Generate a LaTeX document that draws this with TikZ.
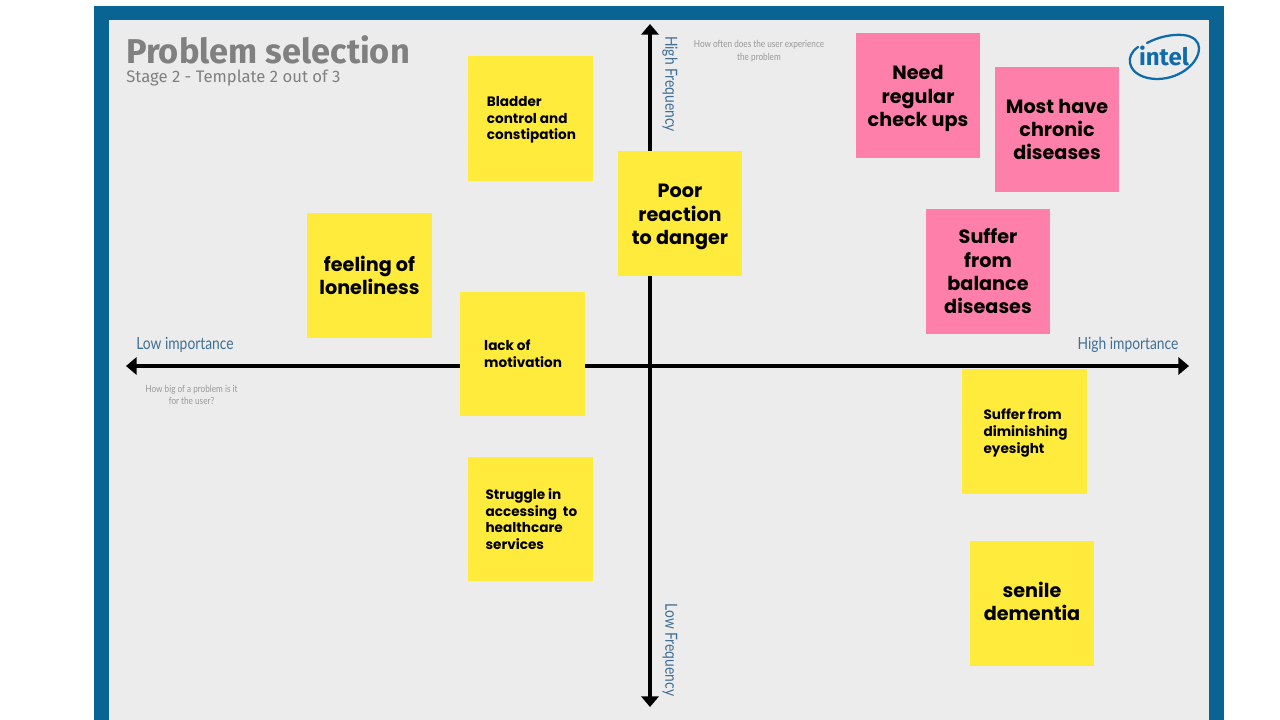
\documentclass[tikz,border=0pt]{standalone}
\usepackage{fontspec}
\setmainfont{Poppins}
\newfontfamily\titlefont{Fira Sans}
\newfontfamily\thinfont[FakeStretch=0.83]{Lato}
\usetikzlibrary{arrows.meta}
\definecolor{frame}{HTML}{0A6493}
\definecolor{paper}{HTML}{ECECEC}
\definecolor{sticky}{HTML}{FFEB3B}
\definecolor{rose}{HTML}{FF7FAB}
\definecolor{inkblue}{HTML}{3F6F96}
\definecolor{intelblue}{HTML}{0F6BAA}
\newcommand\dn[2]{\raisebox{0pt}[\dimexpr\height+#1*2\relax][\depth]{#2}}
\newcommand\tb[1]{\begin{tabular}{@{}c@{}}#1\end{tabular}}
\tikzset{
  x=0.75pt,y=-0.75pt,
  note/.style={minimum width=93.4pt,minimum height=93.4pt,inner sep=0pt,align=center,text=black,font=\fontsize{14.4}{17.5}\selectfont\bfseries},
  notesmall/.style={note,align=left,font=\fontsize{10.2}{12.5}\selectfont\bfseries},
  yel/.style={fill=sticky},
  pnk/.style={fill=rose},
  axis/.style={line width=3pt,-{Triangle[length=8pt,width=13pt]}},
  axlabel/.style={text=inkblue,font=\thinfont\fontsize{12.5}{14}\selectfont,inner sep=0pt},
  hint/.style={text=black!40,font=\thinfont\fontsize{7.4}{9.5}\selectfont,align=center,inner sep=0pt},
}
\begin{document}
\begin{tikzpicture}
\useasboundingbox (0,0) rectangle (1280,720);
\fill[white] (0,0) rectangle (1280,720);
\fill[frame] (94,6) rectangle (1224,720);
\fill[paper] (108.5,20.5) rectangle (1209,720);
\node[anchor=west,inner sep=0pt,text=black!50,font=\titlefont\bfseries\fontsize{25.8}{28}\selectfont] (title) at (126,49.5) {Problem selection};
\node[anchor=west,inner sep=0pt,text=black!50,font=\titlefont\fontsize{12.5}{14}\selectfont] (sub) at (126,78) {Stage 2 - Template 2 out of 3};
% axes
\coordinate (c) at (650,366);
\coordinate (L) at (126,366);
\coordinate (R) at (1189,366);
\coordinate (T) at (650,24);
\coordinate (B) at (650,707);
\draw[axis] (c) -- (L);
\draw[axis] (c) -- (R);
\draw[axis] (c) -- (T);
\draw[axis] (c) -- (B);
\node[axlabel] (lowi) at (185,345) {Low importance};
\node[axlabel] (highi) at (1128,345) {High importance};
\node[axlabel,rotate=-90] (highf) at (670,84) {High Frequency};
\node[axlabel,rotate=-90] (lowf) at (670,650) {Low Frequency};
\node[hint] (h1) at (759,51) {How often does the user experience\\the problem};
\node[hint] (h2) at (191.5,395) {How big of a problem is it\\for the user?};
% notes
\node[note,pnk] (n1) at (918,95.5) {\dn{2.2pt}{\tb{Need\\regular\\check ups}}};
\node[note,pnk] (n2) at (1057,129.5) {Most have\\chronic\\diseases};
\node[note,pnk] (n3) at (988,271.5) {Suffer\\from\\balance\\diseases};
\node[note,yel] (n4) at (680,213.5) {\dn{2.2pt}{\tb{Poor\\reaction\\to danger}}};
\node[note,yel] (n5) at (369.5,275.5) {feeling of\\loneliness};
\node[note,yel] (n6) at (1032,603.5) {\dn{0.6pt}{\tb{senile\\dementia}}};
\node[notesmall,yel] (n7) at (530.5,118.5) {\dn{1.2pt}{\makebox[93.4pt][l]{\hspace{14pt}\parbox{78pt}{Bladder\\control and\\constipation}}}};
\node[notesmall,yel] (n8) at (522.5,354) {\makebox[93.4pt][l]{\hspace{18pt}\parbox{74pt}{lack of\\motivation}}};
\node[notesmall,yel] (n9) at (530.5,519) {\makebox[93.4pt][l]{\hspace{13pt}\parbox{80pt}{Struggle in\\accessing\ \ to\\healthcare\\services}}};
\node[notesmall,yel] (n10) at (1024.5,431.5) {\dn{1.2pt}{\makebox[93.4pt][l]{\hspace{16pt}\parbox{77pt}{Suffer from\\diminishing\\eyesight}}}};
% logo
\draw[intelblue,line width=1.7pt,line cap=round] (1138,47) .. controls (1131,52) and (1129,58) .. (1130,63) .. controls (1132,74) and (1145,79) .. (1157,79) .. controls (1170,79) and (1181,74) .. (1188,68);
\draw[intelblue,line width=1.7pt,line cap=round] (1147,43) .. controls (1158,37) and (1172,34) .. (1183,35) .. controls (1194,36) and (1199,42) .. (1199,48) .. controls (1199,56) and (1194,63) .. (1188,68);
\node[text=intelblue,inner sep=0pt,font=\titlefont\bfseries\fontsize{18}{20}\selectfont] (logo) at (1164,56) {intel};
\end{tikzpicture}
\end{document}
